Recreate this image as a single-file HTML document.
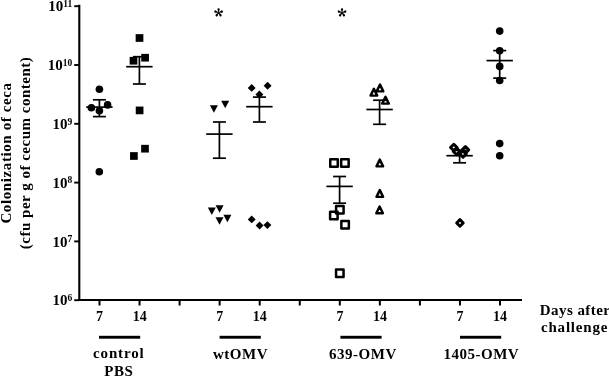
<!DOCTYPE html>
<html><head><meta charset="utf-8"><style>
html,body{margin:0;padding:0;background:#fff;}
svg{display:block;will-change:transform;filter:blur(0.35px);}
.t{font-family:"Liberation Serif",serif;font-weight:bold;font-size:15px;fill:#000;}
.sup{font-size:9.5px;}
.ls{letter-spacing:0.5px;}
.ast{font-family:"Liberation Serif",serif;font-weight:normal;font-size:20px;fill:#000;}
</style></head><body>
<svg width="609" height="377" viewBox="0 0 609 377">
<line x1="79.3" y1="4.8" x2="79.3" y2="301" stroke="#000" stroke-width="2.1"/>
<line x1="78.3" y1="300" x2="522" y2="300" stroke="#000" stroke-width="2.1"/>
<line x1="74.2" y1="6.20" x2="79" y2="6.20" stroke="#000" stroke-width="1.9"/>
<line x1="74.2" y1="65.00" x2="79" y2="65.00" stroke="#000" stroke-width="1.9"/>
<line x1="74.2" y1="123.80" x2="79" y2="123.80" stroke="#000" stroke-width="1.9"/>
<line x1="74.2" y1="182.60" x2="79" y2="182.60" stroke="#000" stroke-width="1.9"/>
<line x1="74.2" y1="241.40" x2="79" y2="241.40" stroke="#000" stroke-width="1.9"/>
<line x1="74.2" y1="300.20" x2="79" y2="300.20" stroke="#000" stroke-width="1.9"/>
<line x1="99.50" y1="300" x2="99.50" y2="305.5" stroke="#000" stroke-width="2"/>
<line x1="139.55" y1="300" x2="139.55" y2="305.5" stroke="#000" stroke-width="2"/>
<line x1="179.60" y1="300" x2="179.60" y2="305.5" stroke="#000" stroke-width="2"/>
<line x1="219.65" y1="300" x2="219.65" y2="305.5" stroke="#000" stroke-width="2"/>
<line x1="259.70" y1="300" x2="259.70" y2="305.5" stroke="#000" stroke-width="2"/>
<line x1="299.75" y1="300" x2="299.75" y2="305.5" stroke="#000" stroke-width="2"/>
<line x1="339.80" y1="300" x2="339.80" y2="305.5" stroke="#000" stroke-width="2"/>
<line x1="379.85" y1="300" x2="379.85" y2="305.5" stroke="#000" stroke-width="2"/>
<line x1="419.90" y1="300" x2="419.90" y2="305.5" stroke="#000" stroke-width="2"/>
<line x1="459.95" y1="300" x2="459.95" y2="305.5" stroke="#000" stroke-width="2"/>
<line x1="500.00" y1="300" x2="500.00" y2="305.5" stroke="#000" stroke-width="2"/>
<text x="72.3" y="11.40" text-anchor="end" class="t">10<tspan class="sup" dy="-4.5">11</tspan></text>
<text x="72.3" y="70.20" text-anchor="end" class="t">10<tspan class="sup" dy="-4.5">10</tspan></text>
<text x="72.3" y="129.00" text-anchor="end" class="t">10<tspan class="sup" dy="-4.5">9</tspan></text>
<text x="72.3" y="187.80" text-anchor="end" class="t">10<tspan class="sup" dy="-4.5">8</tspan></text>
<text x="72.3" y="246.60" text-anchor="end" class="t">10<tspan class="sup" dy="-4.5">7</tspan></text>
<text x="72.3" y="305.40" text-anchor="end" class="t">10<tspan class="sup" dy="-4.5">6</tspan></text>
<text x="99.60" y="320.6" text-anchor="middle" class="t" style="font-size:14px">7</text>
<text x="139.65" y="320.6" text-anchor="middle" class="t" style="font-size:14px">14</text>
<text x="219.75" y="320.6" text-anchor="middle" class="t" style="font-size:14px">7</text>
<text x="259.80" y="320.6" text-anchor="middle" class="t" style="font-size:14px">14</text>
<text x="339.90" y="320.6" text-anchor="middle" class="t" style="font-size:14px">7</text>
<text x="379.95" y="320.6" text-anchor="middle" class="t" style="font-size:14px">14</text>
<text x="460.05" y="320.6" text-anchor="middle" class="t" style="font-size:14px">7</text>
<text x="500.10" y="320.6" text-anchor="middle" class="t" style="font-size:14px">14</text>
<rect x="99.00" y="335.8" width="41.20" height="2.9" fill="#000"/>
<rect x="219.60" y="335.8" width="41.20" height="2.9" fill="#000"/>
<rect x="340.40" y="335.8" width="41.20" height="2.9" fill="#000"/>
<rect x="460.00" y="335.8" width="41.20" height="2.9" fill="#000"/>
<text x="118.8" y="358.3" text-anchor="middle" class="t" style="letter-spacing:0.85px">control</text>
<text x="118.8" y="375.8" text-anchor="middle" class="t ls">PBS</text>
<text x="240.5" y="358.7" text-anchor="middle" class="t ls">wtOMV</text>
<text x="362.9" y="358.7" text-anchor="middle" class="t ls">639-OMV</text>
<text x="481.3" y="358.7" text-anchor="middle" class="t ls">1405-OMV</text>
<text x="575.1" y="314.5" text-anchor="middle" class="t" style="letter-spacing:0.45px">Days after</text>
<text x="574.6" y="332.3" text-anchor="middle" class="t" style="letter-spacing:0.8px">challenge</text>
<text transform="translate(10.7,153) rotate(-90)" text-anchor="middle" class="t" style="letter-spacing:0.6px">Colonization of ceca</text>
<text transform="translate(30.2,153) rotate(-90)" text-anchor="middle" class="t ls">(cfu per g of cecum content)</text>
<line x1="99.4" y1="99.8" x2="99.4" y2="116.6" stroke="#000" stroke-width="1.7"/>
<line x1="92.9" y1="99.8" x2="105.9" y2="99.8" stroke="#000" stroke-width="1.7"/>
<line x1="92.9" y1="116.6" x2="105.9" y2="116.6" stroke="#000" stroke-width="1.7"/>
<line x1="86.2" y1="107.1" x2="112.60000000000001" y2="107.1" stroke="#000" stroke-width="1.7"/>
<line x1="139.4" y1="56.7" x2="139.4" y2="84.0" stroke="#000" stroke-width="1.7"/>
<line x1="132.9" y1="56.7" x2="145.9" y2="56.7" stroke="#000" stroke-width="1.7"/>
<line x1="132.9" y1="84.0" x2="145.9" y2="84.0" stroke="#000" stroke-width="1.7"/>
<line x1="126.2" y1="66.7" x2="152.6" y2="66.7" stroke="#000" stroke-width="1.7"/>
<line x1="219.4" y1="122.0" x2="219.4" y2="158.2" stroke="#000" stroke-width="1.7"/>
<line x1="212.9" y1="122.0" x2="225.9" y2="122.0" stroke="#000" stroke-width="1.7"/>
<line x1="212.9" y1="158.2" x2="225.9" y2="158.2" stroke="#000" stroke-width="1.7"/>
<line x1="206.20000000000002" y1="134.1" x2="232.6" y2="134.1" stroke="#000" stroke-width="1.7"/>
<line x1="259.4" y1="97.1" x2="259.4" y2="122.0" stroke="#000" stroke-width="1.7"/>
<line x1="252.89999999999998" y1="97.1" x2="265.9" y2="97.1" stroke="#000" stroke-width="1.7"/>
<line x1="252.89999999999998" y1="122.0" x2="265.9" y2="122.0" stroke="#000" stroke-width="1.7"/>
<line x1="246.2" y1="106.7" x2="272.59999999999997" y2="106.7" stroke="#000" stroke-width="1.7"/>
<line x1="339.6" y1="176.5" x2="339.6" y2="203.2" stroke="#000" stroke-width="1.7"/>
<line x1="333.1" y1="176.5" x2="346.1" y2="176.5" stroke="#000" stroke-width="1.7"/>
<line x1="333.1" y1="203.2" x2="346.1" y2="203.2" stroke="#000" stroke-width="1.7"/>
<line x1="326.40000000000003" y1="186.4" x2="352.8" y2="186.4" stroke="#000" stroke-width="1.7"/>
<line x1="379.6" y1="100.2" x2="379.6" y2="124.3" stroke="#000" stroke-width="1.7"/>
<line x1="373.1" y1="100.2" x2="386.1" y2="100.2" stroke="#000" stroke-width="1.7"/>
<line x1="373.1" y1="124.3" x2="386.1" y2="124.3" stroke="#000" stroke-width="1.7"/>
<line x1="366.40000000000003" y1="109.5" x2="392.8" y2="109.5" stroke="#000" stroke-width="1.7"/>
<line x1="459.6" y1="150.4" x2="459.6" y2="162.8" stroke="#000" stroke-width="1.7"/>
<line x1="453.1" y1="150.4" x2="466.1" y2="150.4" stroke="#000" stroke-width="1.7"/>
<line x1="453.1" y1="162.8" x2="466.1" y2="162.8" stroke="#000" stroke-width="1.7"/>
<line x1="446.40000000000003" y1="155.7" x2="472.8" y2="155.7" stroke="#000" stroke-width="1.7"/>
<line x1="499.7" y1="50.6" x2="499.7" y2="78.1" stroke="#000" stroke-width="1.7"/>
<line x1="493.2" y1="50.6" x2="506.2" y2="50.6" stroke="#000" stroke-width="1.7"/>
<line x1="493.2" y1="78.1" x2="506.2" y2="78.1" stroke="#000" stroke-width="1.7"/>
<line x1="486.5" y1="60.6" x2="512.9" y2="60.6" stroke="#000" stroke-width="1.7"/>
<circle cx="99.4" cy="89.2" r="3.8" fill="#000"/>
<circle cx="91.4" cy="107.8" r="3.8" fill="#000"/>
<circle cx="107.6" cy="104.9" r="3.8" fill="#000"/>
<circle cx="99.4" cy="110.8" r="3.8" fill="#000"/>
<circle cx="99.3" cy="171.7" r="3.8" fill="#000"/>
<rect x="135.65" y="34.15" width="7.7" height="7.7" fill="#000"/>
<rect x="129.65" y="56.90" width="7.7" height="7.7" fill="#000"/>
<rect x="141.25" y="53.85" width="7.7" height="7.7" fill="#000"/>
<rect x="135.75" y="106.55" width="7.7" height="7.7" fill="#000"/>
<rect x="141.15" y="144.85" width="7.7" height="7.7" fill="#000"/>
<rect x="130.05" y="152.15" width="7.7" height="7.7" fill="#000"/>
<path d="M209.90,105.35H217.90L213.90,112.85Z" fill="#000"/>
<path d="M221.20,100.75H229.20L225.20,108.25Z" fill="#000"/>
<path d="M207.80,207.45H215.80L211.80,214.95Z" fill="#000"/>
<path d="M215.60,205.15H223.60L219.60,212.65Z" fill="#000"/>
<path d="M215.50,217.35H223.50L219.50,224.85Z" fill="#000"/>
<path d="M223.40,214.65H231.40L227.40,222.15Z" fill="#000"/>
<path d="M251.70,83.95L255.65,87.90L251.70,91.85L247.75,87.90Z" fill="#000"/>
<path d="M267.60,81.85L271.55,85.80L267.60,89.75L263.65,85.80Z" fill="#000"/>
<path d="M259.40,90.55L263.35,94.50L259.40,98.45L255.45,94.50Z" fill="#000"/>
<path d="M251.70,215.45L255.65,219.40L251.70,223.35L247.75,219.40Z" fill="#000"/>
<path d="M259.60,221.55L263.55,225.50L259.60,229.45L255.65,225.50Z" fill="#000"/>
<path d="M267.40,221.15L271.35,225.10L267.40,229.05L263.45,225.10Z" fill="#000"/>
<rect x="330.25" y="159.15" width="7.5" height="7.5" fill="none" stroke="#000" stroke-width="2.5" stroke-linejoin="round"/>
<rect x="341.15" y="159.15" width="7.5" height="7.5" fill="none" stroke="#000" stroke-width="2.5" stroke-linejoin="round"/>
<rect x="336.10" y="205.95" width="7.5" height="7.5" fill="none" stroke="#000" stroke-width="2.5" stroke-linejoin="round"/>
<rect x="330.10" y="211.65" width="7.5" height="7.5" fill="none" stroke="#000" stroke-width="2.5" stroke-linejoin="round"/>
<rect x="341.35" y="221.05" width="7.5" height="7.5" fill="none" stroke="#000" stroke-width="2.5" stroke-linejoin="round"/>
<rect x="336.05" y="269.45" width="7.5" height="7.5" fill="none" stroke="#000" stroke-width="2.5" stroke-linejoin="round"/>
<path d="M380.00,84.65L383.30,91.35H376.70Z" fill="none" stroke="#000" stroke-width="2.45" stroke-linejoin="round"/>
<path d="M373.90,88.90L377.20,95.60H370.60Z" fill="none" stroke="#000" stroke-width="2.45" stroke-linejoin="round"/>
<path d="M385.50,96.90L388.80,103.60H382.20Z" fill="none" stroke="#000" stroke-width="2.45" stroke-linejoin="round"/>
<path d="M379.80,159.65L383.10,166.35H376.50Z" fill="none" stroke="#000" stroke-width="2.45" stroke-linejoin="round"/>
<path d="M379.80,190.15L383.10,196.85H376.50Z" fill="none" stroke="#000" stroke-width="2.45" stroke-linejoin="round"/>
<path d="M379.60,206.50L382.90,213.20H376.30Z" fill="none" stroke="#000" stroke-width="2.45" stroke-linejoin="round"/>
<path d="M453.80,144.20L457.10,147.50L453.80,150.80L450.50,147.50Z" fill="none" stroke="#000" stroke-width="2.9" stroke-linejoin="round"/>
<path d="M456.60,148.10L459.90,151.40L456.60,154.70L453.30,151.40Z" fill="none" stroke="#000" stroke-width="2.9" stroke-linejoin="round"/>
<path d="M465.40,146.60L468.70,149.90L465.40,153.20L462.10,149.90Z" fill="none" stroke="#000" stroke-width="2.9" stroke-linejoin="round"/>
<path d="M463.00,150.60L466.30,153.90L463.00,157.20L459.70,153.90Z" fill="none" stroke="#000" stroke-width="2.9" stroke-linejoin="round"/>
<path d="M459.95,219.65L463.25,222.95L459.95,226.25L456.65,222.95Z" fill="none" stroke="#000" stroke-width="2.9" stroke-linejoin="round"/>
<circle cx="499.7" cy="31.1" r="3.8" fill="#000"/>
<circle cx="499.7" cy="50.7" r="3.8" fill="#000"/>
<circle cx="499.7" cy="66.4" r="3.8" fill="#000"/>
<circle cx="499.7" cy="80.5" r="3.8" fill="#000"/>
<circle cx="499.7" cy="143.6" r="3.8" fill="#000"/>
<circle cx="499.7" cy="155.8" r="3.8" fill="#000"/>
<path d="M218.40,12.60L218.80,12.60L219.75,9.30A1.15,1.15 0 1 0 217.45,9.30ZM218.54,12.41L218.66,12.79L222.09,12.67A1.15,1.15 0 1 0 221.38,10.49ZM218.76,12.48L218.44,12.72L219.61,15.95A1.15,1.15 0 1 0 221.47,14.59ZM218.76,12.72L218.44,12.48L215.73,14.59A1.15,1.15 0 1 0 217.59,15.95ZM218.54,12.79L218.66,12.41L215.82,10.49A1.15,1.15 0 1 0 215.11,12.67Z" fill="#000"/>
<path d="M341.80,12.60L342.20,12.60L343.15,9.30A1.15,1.15 0 1 0 340.85,9.30ZM341.94,12.41L342.06,12.79L345.49,12.67A1.15,1.15 0 1 0 344.78,10.49ZM342.16,12.48L341.84,12.72L343.01,15.95A1.15,1.15 0 1 0 344.87,14.59ZM342.16,12.72L341.84,12.48L339.13,14.59A1.15,1.15 0 1 0 340.99,15.95ZM341.94,12.79L342.06,12.41L339.22,10.49A1.15,1.15 0 1 0 338.51,12.67Z" fill="#000"/>
</svg>
</body></html>
